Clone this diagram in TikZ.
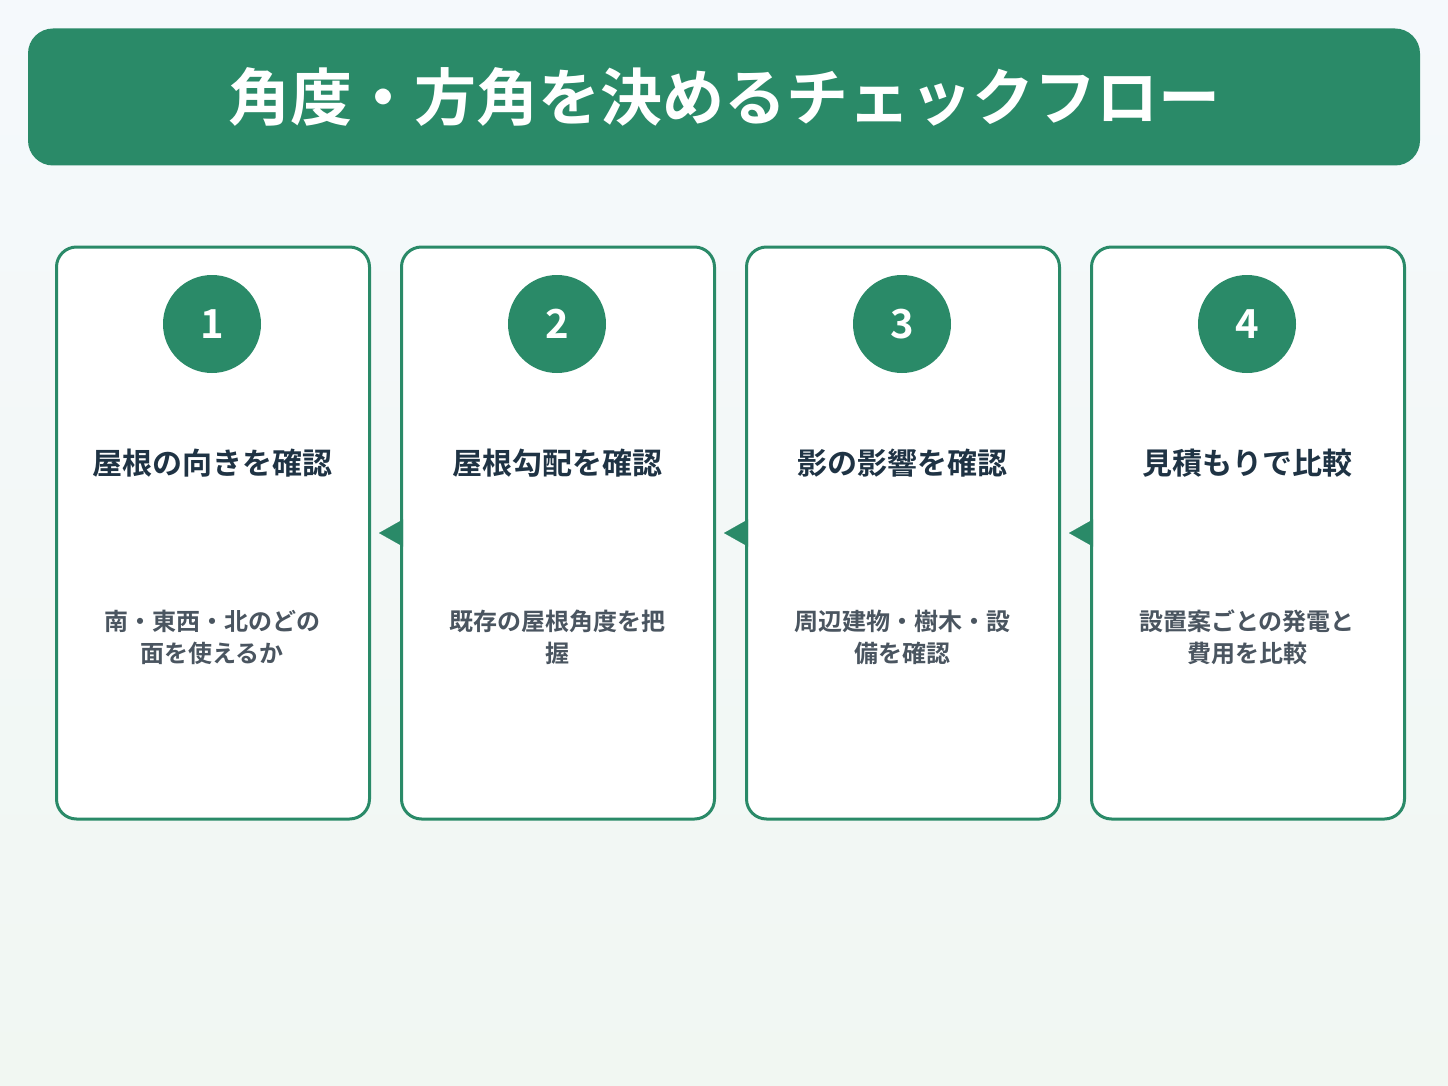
\documentclass[tikz,border=0pt]{standalone}
\usepackage{fontspec}
\newfontfamily\jp{Noto Sans CJK JP}[BoldFont={Noto Sans CJK JP Bold}]
\usetikzlibrary{arrows.meta}
\definecolor{g}{HTML}{2A8A68}
\definecolor{dk}{HTML}{1F3344}
\definecolor{gr}{HTML}{4A5560}
\begin{document}
\begin{tikzpicture}[x=1pt,y=-1pt,
 card/.style={draw=g,line width=3pt,fill=white,rounded corners=20pt,minimum width=313pt,minimum height=572pt,inner sep=0},
 num/.style={circle,fill=g,minimum size=98pt,text=white,font=\jp\bfseries\fontsize{40}{44}\selectfont},
 head/.style={text=dk,font=\jp\bfseries\fontsize{30}{36}\selectfont},
 body/.style={text=gr,align=center,font=\jp\bfseries\fontsize{24}{32}\selectfont},
 arr/.style={line width=0.1pt,draw=g,-{Triangle[length=24pt,width=27pt]},shorten >=8pt}]
\shade[top color={rgb,255:red,245;green,249;blue,252},bottom color={rgb,255:red,241;green,247;blue,242}] (0,0) rectangle (1448,1086);
\useasboundingbox (0,0) rectangle (1448,1086);
\node[fill=g,rounded corners=25pt,minimum width=1392pt,minimum height=137pt,text=white,font=\jp\bfseries\fontsize{62}{70}\selectfont] (title) at (724,97) {角度・方角を決めるチェックフロー};
\foreach \i/\x/\h/\b in {1/213/屋根の向きを確認/{南・東西・北のどの\\面を使えるか},
  2/558/屋根勾配を確認/{既存の屋根角度を把\\握},
  3/903/影の影響を確認/{周辺建物・樹木・設\\備を確認},
  4/1248/見積もりで比較/{設置案ごとの発電と\\費用を比較}}{
 \node[card] (c\i) at (\x,533) {};
 \node[num] (n\i) at (\x-1,324) {\i};
 \node[head] (h\i) at (\x-1,463) {\h};
 \node[body] (b\i) at (\x-1,637) {\b};
}
\draw[arr] (c2.west) -- (c1.east);
\draw[arr] (c3.west) -- (c2.east);
\draw[arr] (c4.west) -- (c3.east);
\end{tikzpicture}
\end{document}
